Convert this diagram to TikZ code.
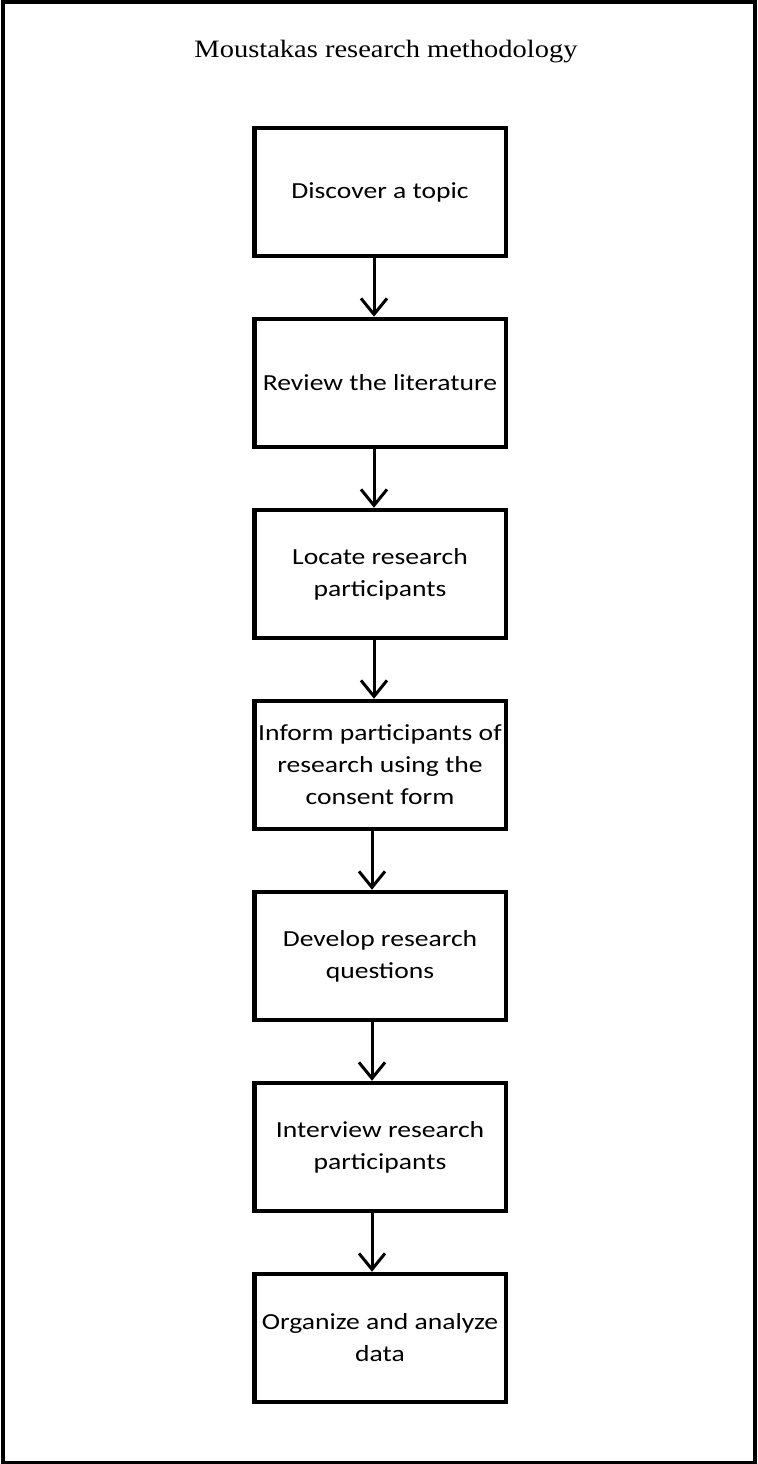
\documentclass[tikz,border=0pt]{standalone}
\usepackage{fontspec}
\setmainfont[FakeStretch=1.14]{Liberation Serif}
\newfontfamily\stepfont[FakeStretch=1.2]{Carlito}
\usetikzlibrary{arrows.meta}
\tikzset{
  stepbox/.style={draw, line width=2.25pt, minimum width=125.75pt, minimum height=64pt,
    inner sep=1pt, align=center, font=\stepfont\fontsize{11.5}{16}\selectfont},
  flow/.style={line width=1.5pt, -{Straight Barb[length=8pt,width=13pt]}}
}
\begin{document}
\begin{tikzpicture}
      \useasboundingbox (0,0) rectangle (379pt,-732pt);
      \draw[line width=2pt] (1.5pt,-1pt) rectangle (377.5pt,-731.5pt);
      \node[anchor=base, font=\fontsize{12.5}{15}\selectfont] (title) at (193pt,-28.5pt)
        {Moustakas research methodology};
      \draw
        (190pt,-96pt) node[stepbox] (topic){Discover a topic}
        (190pt,-191.5pt) node[stepbox] (review){Review the literature}
        (190pt,-287pt) node[stepbox] (locate){Locate research\\participants}
        (190pt,-382.5pt) node[stepbox] (inform){Inform participants of\\research using the\\consent form}
        (190pt,-478pt) node[stepbox] (develop){Develop research\\questions}
        (190pt,-573.5pt) node[stepbox] (interview){Interview research\\participants}
        (190pt,-669pt) node[stepbox] (analyze){Organize and analyze\\data};
      \begin{scope}[flow]
        \draw ([xshift=-3pt]topic.south) to ([xshift=-3pt]review.north);
        \draw ([xshift=-3pt]review.south) to ([xshift=-3pt]locate.north);
        \draw ([xshift=-3pt]locate.south) to ([xshift=-3pt]inform.north);
        \draw ([xshift=-4pt]inform.south) to ([xshift=-4pt]develop.north);
        \draw ([xshift=-4pt]develop.south) to ([xshift=-4pt]interview.north);
        \draw ([xshift=-4pt]interview.south) to ([xshift=-4pt]analyze.north);
      \end{scope}
    \end{tikzpicture}
\end{document}
